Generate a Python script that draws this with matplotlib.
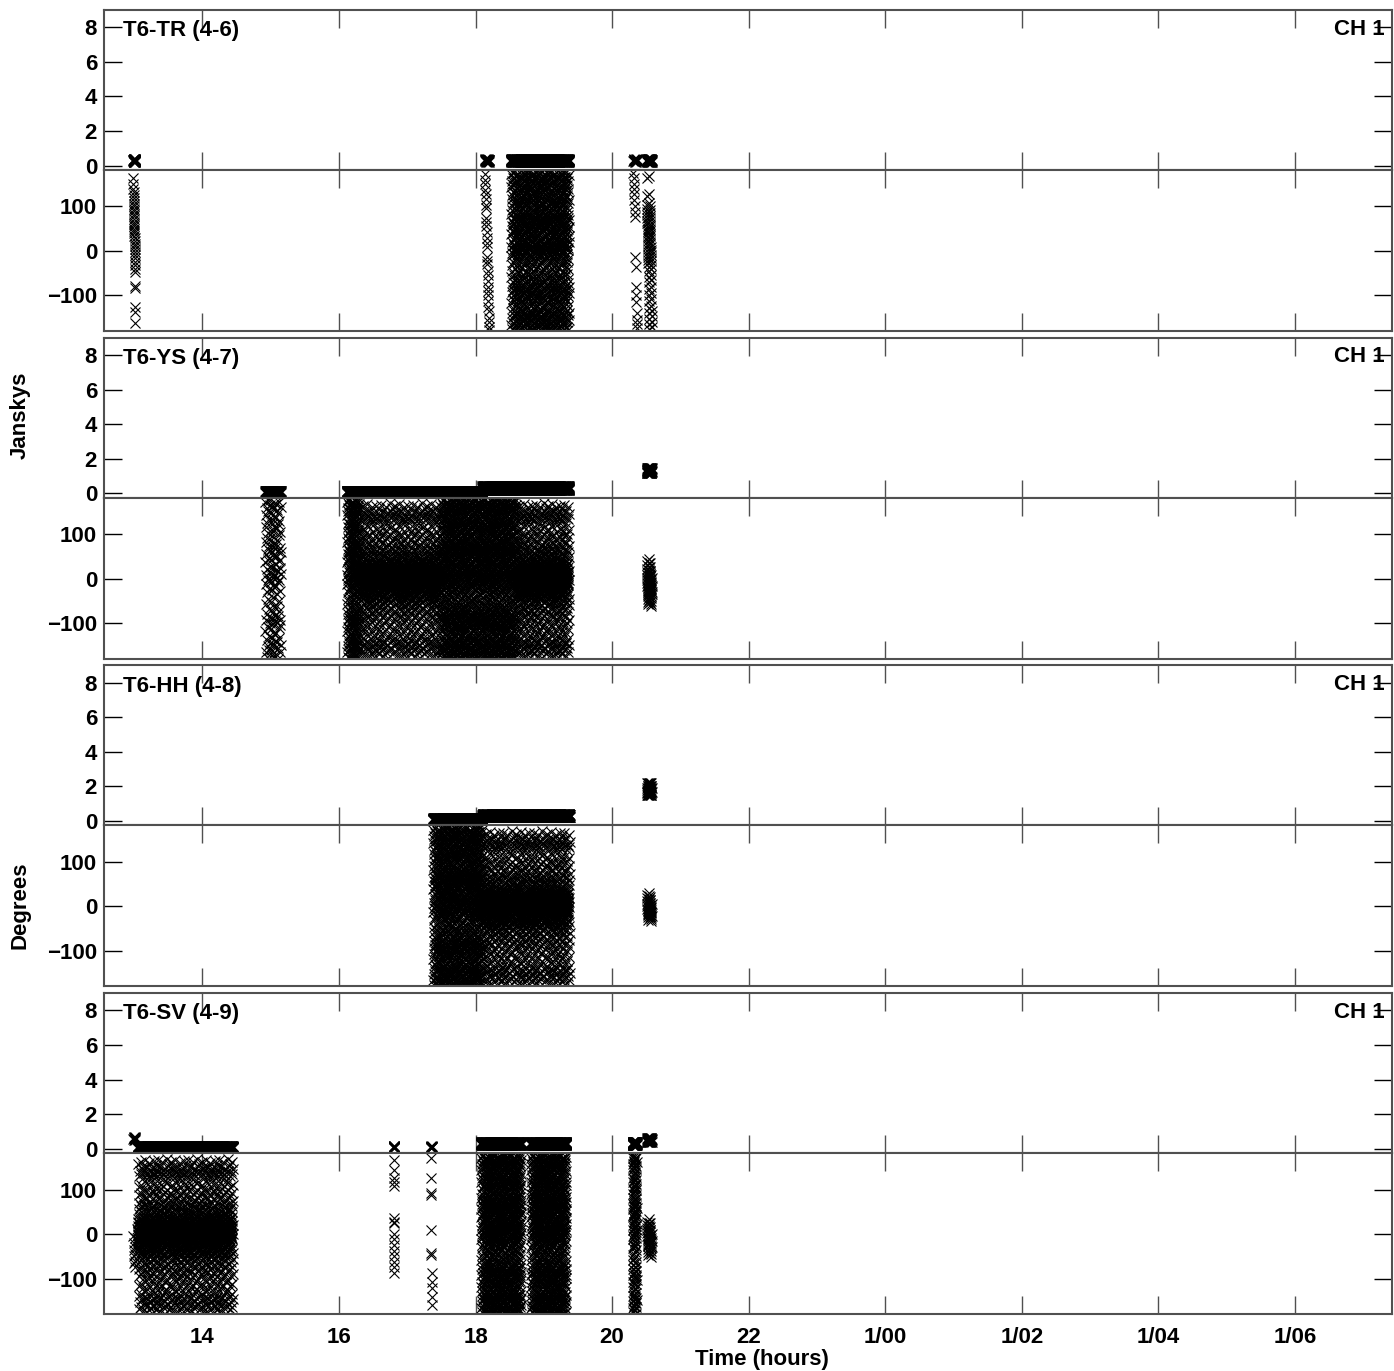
import matplotlib.pyplot as plt
import numpy as np

plt.rcParams['font.family'] = ['Liberation Sans', 'DejaVu Sans']
plt.rcParams['font.weight'] = 'bold'

baselines = ['T6-TR (4-6)', 'T6-YS (4-7)', 'T6-HH (4-8)', 'T6-SV (4-9)']
channel = 'CH 1'
xticks = [14, 16, 18, 20, 22, 24, 26, 28, 30]
xticklabels = ['14', '16', '18', '20', '22', '1/00', '1/02', '1/04', '1/06']

# phase patterns (degrees)
ph_full = [172, -118, 38, -12, 143, -166, 82, -58, 8, 117, -93, 56, -139, 158, -31,
           91, -176, 21, -79, 126, -4, 67, -151, 151, -46, 102, -108, 43, 176, -69,
           1, 133, -129, 74, -24, 47, -161, 108, -88, 27, -100, 63, 165, -145, 14]
ph_core = [12, -8, 4, -22, 28, -3, 18, -33, 0, 9, -17, 33, -13, 24, -38, 6, 158, -117,
           88, -168, 131, -78, 57, -139, 45, -48, 106, -95, 15, -5, 70, -62, 142, -152]
# small shifts between successive passes of a pattern (degrees)
ph_shift = [0, 5, -4, 9, -7, 2, -9, 6, -2, 8, -5, 3, -11, 11]
tr_col1 = [165, 150, 140, 132, 125, 118, 112, 106, 100, 95, 90, 84, 78, 72, 66, 61, 56,
           50, 45, 40, 34, 28, 22, 16, 10, 4, -2, -9, -16, -24, -32, -40, -48, -78, -83,
           -125, -138, -162]
tr_col2 = [172, 160, 150, 138, 127, 116, 104, 96, 73, 64, 55, 42, 30, 18, 8, -14, -22,
           -30, -45, -55, -68, -80, -90, -100, -112, -125, -135, -150, -160, -170, -177]
tr_col4 = [175, 163, 150, 140, 128, 115, 100, 88, 76, -14, -37, -82, -100, -115, -140,
           -155, -165, -174]
tr_col5 = [163, 123, 103, 95, 88, 80, 74, 68, 62, 56, 50, 45, 40, 34, 28, 22, 16, 10, 4,
           -2, -8, -14, -20, -28, -37, -45, -58, -70, -85, -100, -112, -128, -140, -152,
           -165, -176]
ys_late = [40, 30, 22, 15, 8, 2, -4, -10, -16, -22, -28, -34, -40, -46, -52, -58, 12, -6,
           -20, 0, -12, -30, 5, -25]
hh_late = [25, 18, 12, 6, 0, -5, -10, -15, -20, -25, -30, 3, -8, 10, -18]
sv_first = [-5, -20, -35, -50, -65, -75, -10, -30, -45, -60]
sv_col1 = [166, 143, 127, 118, 109, 35, 28, 24, 0, -12, -25, -38, -50, -62, -75, -88]
sv_col2 = [170, 127, 93, 87, 8, -43, -48, -88, -108, -122, -142, -160]
sv_late = [28, 20, 14, 8, 2, -4, -10, -16, -22, -28, -34, -40, -47, 5, -12, -25]

# amplitude patterns (Jy)
amp_low = [0.05, 0.12, 0.1, 0.15, 0.08, 0.13]
amp_mid = [0.25, 0.35, 0.3, 0.4, 0.28, 0.33, 0.22]
amp_ys = [1.2, 1.35, 1.3, 1.45, 1.25, 1.4]
amp_hh = [1.5, 1.9, 1.7, 2.2, 1.8, 1.6, 2.0]
amp_sv = [0.4, 0.55, 0.5, 0.6, 0.45]
amp_sv0 = [0.55, 0.65, 0.6, 0.7, 0.5]

# scans per baseline: start, end (hours), amplitudes, phases, repeats
tr_start = [12.99, 18.14, 18.52, 20.31, 20.51]
tr_end = [13.02, 18.20, 19.37, 20.37, 20.58]
tr_amp = [amp_mid, amp_mid, amp_mid, amp_mid, amp_mid]
tr_phase = [tr_col1, tr_col2, ph_full, tr_col4, tr_col5]
tr_rep = [1, 1, 22, 1, 2]

ys_start = [14.92, 16.12, 16.30, 17.50, 18.10, 18.60, 20.51]
ys_end = [15.15, 16.30, 17.50, 18.10, 18.60, 19.37, 20.58]
ys_amp = [amp_low, amp_low, amp_low, amp_low, amp_mid, amp_mid, amp_ys]
ys_phase = [ph_full, ph_full, ph_core, ph_full, ph_full, ph_core, ys_late]
ys_rep = [3, 6, 36, 18, 15, 26, 3]

hh_start = [17.38, 18.10, 20.51]
hh_end = [18.10, 19.38, 20.58]
hh_amp = [amp_low, amp_mid, amp_hh]
hh_phase = [ph_full, ph_core, hh_late]
hh_rep = [22, 40, 3]

sv_start = [12.99, 13.05, 16.80, 17.35, 18.08, 18.81, 20.30, 20.51]
sv_end = [13.02, 14.45, 16.81, 17.36, 18.67, 19.33, 20.36, 20.58]
sv_amp = [amp_sv0, amp_low, amp_low, amp_low, amp_mid, amp_mid, amp_mid, amp_sv]
sv_phase = [sv_first, ph_core, sv_col1, sv_col2, ph_full, ph_full, ph_full, sv_late]
sv_rep = [1, 44, 1, 1, 20, 18, 3, 3]

all_start = [tr_start, ys_start, hh_start, sv_start]
all_end = [tr_end, ys_end, hh_end, sv_end]
all_amp = [tr_amp, ys_amp, hh_amp, sv_amp]
all_phase = [tr_phase, ys_phase, hh_phase, sv_phase]
all_rep = [tr_rep, ys_rep, hh_rep, sv_rep]


def expand(starts, ends, amps, phases, reps):
    t, a, p = [], [], []
    for t0, t1, am, ph, r in zip(starts, ends, amps, phases, reps):
        n = len(ph) * r
        t.append(np.linspace(t0, t1, n))
        shift = np.repeat(np.resize(ph_shift, r), len(ph))
        p.append((np.tile(ph, r) + shift + 180) % 360 - 180)
        a.append(np.resize(am, n))
    return np.concatenate(t), np.concatenate(a), np.concatenate(p)


W, H = 1394, 1371
fig = plt.figure(figsize=(W / 100, H / 100), dpi=100)
left, right = 104, 1392
spine_col = '#505050'
tfs = 16

for i in range(4):
    top = 10 + i * 327.7
    ax_a = fig.add_axes([left / W, 1 - (top + 160) / H, (right - left) / W, 160 / H])
    ax_p = fig.add_axes([left / W, 1 - (top + 321) / H, (right - left) / W, 161 / H])
    t, a, p = expand(all_start[i], all_end[i], all_amp[i], all_phase[i], all_rep[i])
    ax_a.plot(t, a, 'kx', ms=7, mew=0.8)
    ax_p.plot(t, p, 'kx', ms=7, mew=0.8)

    ax_a.set_ylim(-0.25, 9.0)
    ax_a.set_yticks([0, 2, 4, 6, 8])
    ax_p.set_ylim(-180, 182)
    ax_p.set_yticks([-100, 0, 100])
    for ax in (ax_a, ax_p):
        ax.set_xlim(12.56, 31.42)
        ax.set_xticks(xticks)
        ax.tick_params(axis='both', direction='in', length=13, width=1,
                       top=True, right=True, labelsize=tfs, pad=5)
        ax.tick_params(axis='x', color=spine_col, pad=9)
        for s in ax.spines.values():
            s.set_color(spine_col)
            s.set_linewidth(1.5)
        for lab in ax.get_yticklabels():
            lab.set_fontweight('bold')
    ax_a.set_xticklabels([])
    if i == 3:
        ax_p.set_xticklabels(xticklabels, fontweight='bold')
    else:
        ax_p.set_xticklabels([])
    ax_a.text(0.015, 0.87, baselines[i], transform=ax_a.transAxes, fontsize=tfs,
              fontweight='bold', ha='left', va='center')
    ax_a.text(0.9945, 0.88, channel, transform=ax_a.transAxes, fontsize=tfs,
              fontweight='bold', ha='right', va='center')

fig.text(762 / W, 1 - 1359 / H, 'Time (hours)', fontsize=tfs, fontweight='bold',
         ha='center', va='center')
fig.text(20 / W, 1 - 415 / H, 'Janskys', fontsize=tfs, fontweight='bold',
         rotation=90, ha='center', va='center')
fig.text(20 / W, 1 - 905 / H, 'Degrees', fontsize=tfs, fontweight='bold',
         rotation=90, ha='center', va='center')

plt.savefig('out.png', dpi=100)
